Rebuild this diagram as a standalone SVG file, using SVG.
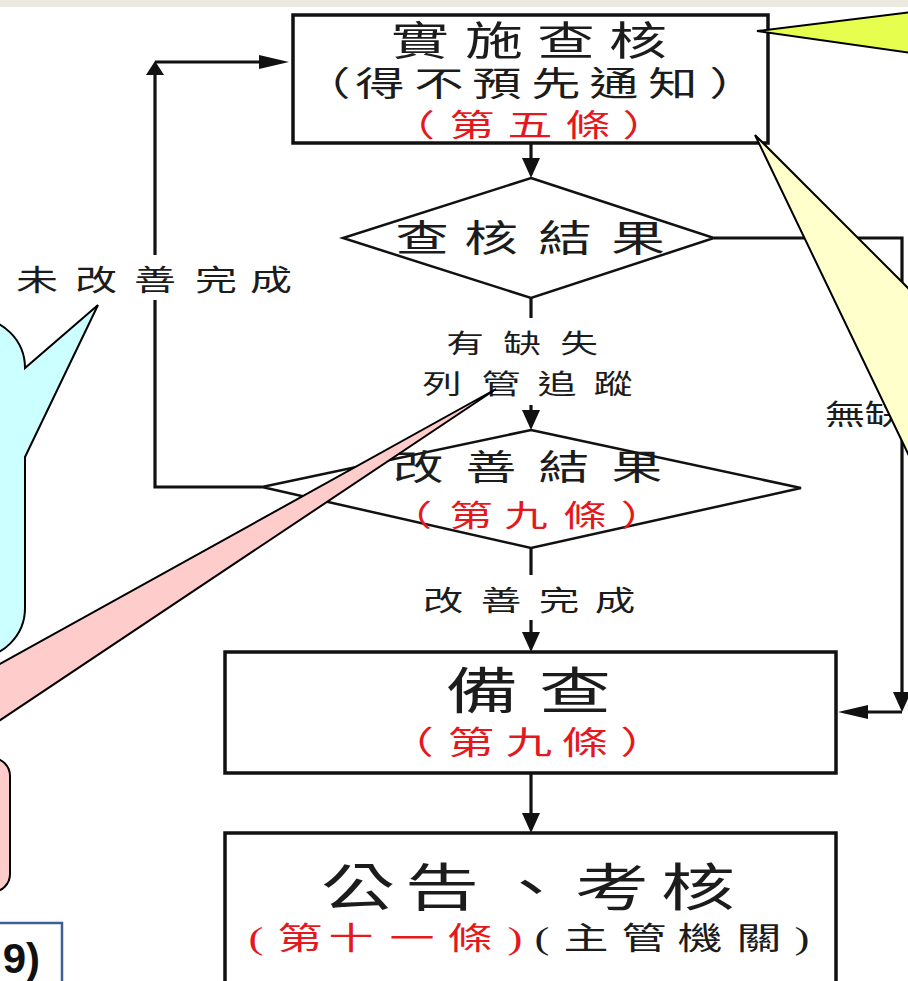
<svg xmlns="http://www.w3.org/2000/svg" width="908" height="981" viewBox="0 0 908 981">
<style>
.box{fill:#fff;stroke:#111;stroke-width:3.5}
.dia{fill:#fff;stroke:#111;stroke-width:2.5}
.con{fill:none;stroke:#111;stroke-width:3.2}
.t{font-family:"Liberation Serif","Noto Sans CJK TC","Noto Sans CJK SC",serif;fill:#1c1c1c;text-anchor:middle}
.r{fill:#e5181e}
.call{stroke:#000;stroke-width:2;stroke-linejoin:miter}
</style>
<defs>
<marker id="av" viewBox="0 0 20 18" refX="12" refY="9" markerWidth="20" markerHeight="18" markerUnits="userSpaceOnUse" orient="auto"><path d="M0,0 L20,9 L0,18 Z" fill="#111"/></marker>
<marker id="as" viewBox="0 0 14 18" refX="6" refY="9" markerWidth="14" markerHeight="18" markerUnits="userSpaceOnUse" orient="auto"><path d="M0,0 L14,9 L0,18 Z" fill="#111"/></marker>
<marker id="ah" viewBox="0 0 30 14" refX="22" refY="7" markerWidth="30" markerHeight="14" markerUnits="userSpaceOnUse" orient="auto"><path d="M0,0 L30,7 L0,14 Z" fill="#111"/></marker>
</defs>
<rect x="0" y="0" width="908" height="981" fill="#fff"/>
<rect x="0" y="0" width="908" height="7" fill="#ece9e0"/>

<g id="connectors">
<path class="con" d="M531,143 V170" marker-end="url(#av)"/>
<path class="con" d="M531,298 V318"/>
<path class="con" d="M531,405 V422" marker-end="url(#av)"/>
<path class="con" d="M531,548 V575"/>
<path class="con" d="M531,620 V644" marker-end="url(#av)"/>
<path class="con" d="M531,773 V825" marker-end="url(#av)"/>
<path class="con" d="M714,238 H902 V704" marker-end="url(#av)"/>
<path class="con" d="M902,712 H846" marker-end="url(#ah)"/>
<path class="con" d="M262,487 H155 V300"/>
<path class="con" d="M155,255 V69" marker-end="url(#as)"/>
<path class="con" d="M155,62 H281" marker-end="url(#ah)"/>
</g>

<g id="node-audit">
<rect class="box" x="293" y="15" width="475" height="128"/>
<text class="t" transform="scale(1.45,1)" font-size="40" y="55" x="289.66 340.69 390.34 440.0">實施查核</text>
<text class="t" transform="scale(1.45,1)" font-size="34" y="96" x="224.83 262.07 302.76 342.76 383.45 423.45 464.14 506.21">（得不預先通知）</text>
<text class="t r" transform="scale(1.45,1)" font-size="31" y="136" x="284.48 325.52 365.52 405.52 444.83">（第五條）</text>
</g>

<g id="node-result">
<polygon class="dia" points="531,178 714,238 531,298 343,238"/>
<text class="t" transform="scale(1.45,1)" font-size="37" y="252" x="291.03 338.62 389.66 440.0">查核結果</text>
</g>

<g id="label-defect">
<text class="t" transform="scale(1.45,1)" font-size="26" y="353" x="320.69 360.0 399.31">有缺失</text>
<text class="t" transform="scale(1.45,1)" font-size="27" y="394" x="304.83 345.52 384.14 422.76">列管追蹤</text>
</g>

<g id="node-improve">
<polygon class="dia" points="531,430 801,488 531,548 262,487"/>
<text class="t" transform="scale(1.45,1)" font-size="35" y="480" x="288.28 338.62 388.97 439.31">改善結果</text>
<text class="t r" transform="scale(1.45,1)" font-size="30" y="526" x="283.10 324.83 362.76 403.45 443.10">（第九條）</text>
</g>

<g id="label-done">
<text class="t" transform="scale(1.45,1)" font-size="28" y="611" x="305.52 345.52 385.52 424.14">改善完成</text>
</g>

<g id="label-notdone">
<text class="t" transform="scale(1.45,1)" font-size="29" y="291" x="25.52 66.21 106.90 148.97 186.90">未改善完成</text>
</g>

<g id="label-nodefect">
<text class="t" transform="scale(1.45,1)" font-size="28" y="425" x="582.76 610.34">無缺</text>
</g>

<g id="node-record">
<rect class="box" x="225" y="652" width="611" height="121"/>
<text class="t" transform="scale(1.45,1)" font-size="50" y="709" x="332.41 396.55">備查</text>
<text class="t r" transform="scale(1.45,1)" font-size="32" y="754" x="283.17 324.83 364.83 403.45 443.72">（第九條）</text>
</g>

<g id="node-announce">
<rect class="box" x="225" y="833" width="611" height="200"/>
<text class="t" transform="scale(1.45,1)" font-size="51" y="906" x="246.90 304.83 366.21 422.07 481.38">公告、考核</text>
<text class="t" transform="scale(1.45,1)" font-size="31" y="949"><tspan class="r" x="176.55 206.90 242.07 284.14 324.14 355.17">(第十一條)</tspan><tspan x="373.79 404.14 444.14 482.76 523.45 553.10">(主管機關)</tspan></text>
</g>

<g id="callout-yellowgreen">
<polygon class="call" fill="#e6ff4f" points="757,31 912,12 912,53"/>
</g>
<g id="callout-lightyellow">
<polygon class="call" fill="#ffffcc" points="755,135 912,292 912,462"/>
</g>
<g id="callout-cyan">
<path class="call" fill="#ccffff" d="M-30,318 L-25,318 A50,50 0 0 1 25,368 L98,305 L25,457 L25,608 A50,50 0 0 1 -25,658 L-30,658 Z"/>
</g>
<g id="callout-pink">
<polygon class="call" fill="#ffcccc" points="496,389 -10,669.5 -10,727"/>
<rect class="call" fill="#ffcccc" x="-40" y="758" width="50" height="134" rx="18"/>
</g>
<g id="box-ref">
<rect x="-10" y="923" width="72" height="80" fill="#fff" stroke="#3d5f91" stroke-width="2.5"/>
<text x="40" y="973" font-family="Liberation Sans, Arial, sans-serif" font-weight="bold" font-size="42" text-anchor="end" fill="#111">9)</text>
</g>
</svg>
